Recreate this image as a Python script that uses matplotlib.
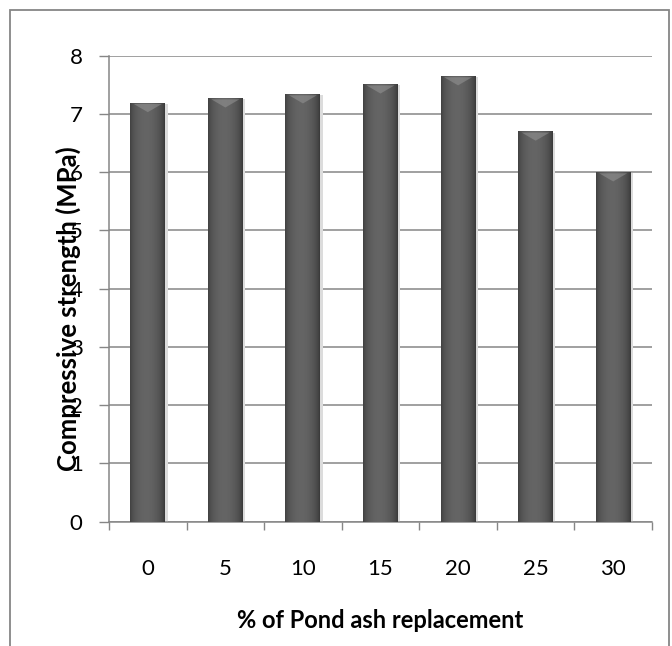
import numpy as np
import matplotlib
matplotlib.use('Agg')
from matplotlib import pyplot as plt
from matplotlib.patches import Rectangle, Polygon

replacement = ['0', '5', '10', '15', '20', '25', '30']
strength = [7.19, 7.27, 7.34, 7.51, 7.65, 6.70, 6.00]
y_ticks = [0, 1, 2, 3, 4, 5, 6, 7, 8]

plt.rcParams['font.family'] = ['Lato', 'DejaVu Sans']

fig = plt.figure(figsize=(6.72, 6.46), dpi=100)
ax = fig.add_axes([0.1622, 0.1927, 0.808, 0.7211])

x = np.arange(len(replacement))
bars = ax.bar(x, strength, width=0.45, color='#555555', zorder=3)

# cylinder-ish shading: dark edges, lighter middle
t = np.linspace(0, 1, 64)
shade = 0.25 + 0.16 * np.sin(np.pi * t) ** 0.6 - 0.03 * t
grad = np.tile(shade, (2, 1))
for b in bars:
    x0, w, h = b.get_x(), b.get_width(), b.get_height()
    im = ax.imshow(grad, cmap='gray', vmin=0, vmax=1, aspect='auto',
                   extent=[x0, x0 + w, 0, h], zorder=4, interpolation='bicubic')
    im.set_clip_path(b)
    # lighter chevron cap at the top
    ax.add_patch(Polygon([(x0 + w * 0.1, h - 0.02), (x0 + w * 0.9, h - 0.02),
                          (x0 + w * 0.5, h - 0.16)], closed=True,
                         facecolor='#9a9a9a', edgecolor='none', alpha=0.5, zorder=5))
    # soft shadow on the right
    ax.add_patch(Rectangle((x0 + w, 0), 0.03, h - 0.02, facecolor='#dcdcdc',
                           edgecolor='none', zorder=2))

ax.set_xlim(-0.5, len(replacement) - 0.5)
ax.set_ylim(0, 8)
ax.set_yticks(y_ticks)
ax.set_xticks(x)
ax.set_xticklabels(replacement)
ax.set_xticks(np.arange(len(replacement) + 1) - 0.5, minor=True)
ax.tick_params(axis='x', which='major', length=0, pad=27, labelsize=16)
ax.tick_params(axis='x', which='minor', length=6, width=1, color='#868686')
ax.tick_params(axis='y', length=7, width=1, color='#868686', labelsize=16, pad=12)

ax.grid(axis='y', color='#868686', lw=1.1, zorder=1)
for s in ['top', 'right']:
    ax.spines[s].set_visible(False)
for s in ['left', 'bottom']:
    ax.spines[s].set_color('#868686')
    ax.spines[s].set_linewidth(1.1)

fig.text(0.5655, 1 - 620 / 646, '% of Pond ash replacement', fontsize=17,
         fontweight='bold', ha='center', va='center')
fig.text(0.101, 0.522, 'Compressive strength (MPa)', rotation=90, fontsize=18.5,
         fontweight='bold', ha='center', va='center', zorder=10)

fig.patches.append(Rectangle((10 / 672, -0.05), 659 / 672, 1.05 - 10 / 646,
                             transform=fig.transFigure, fill=False,
                             edgecolor='#868686', lw=1.3))

fig.savefig('out.png', dpi=100)
